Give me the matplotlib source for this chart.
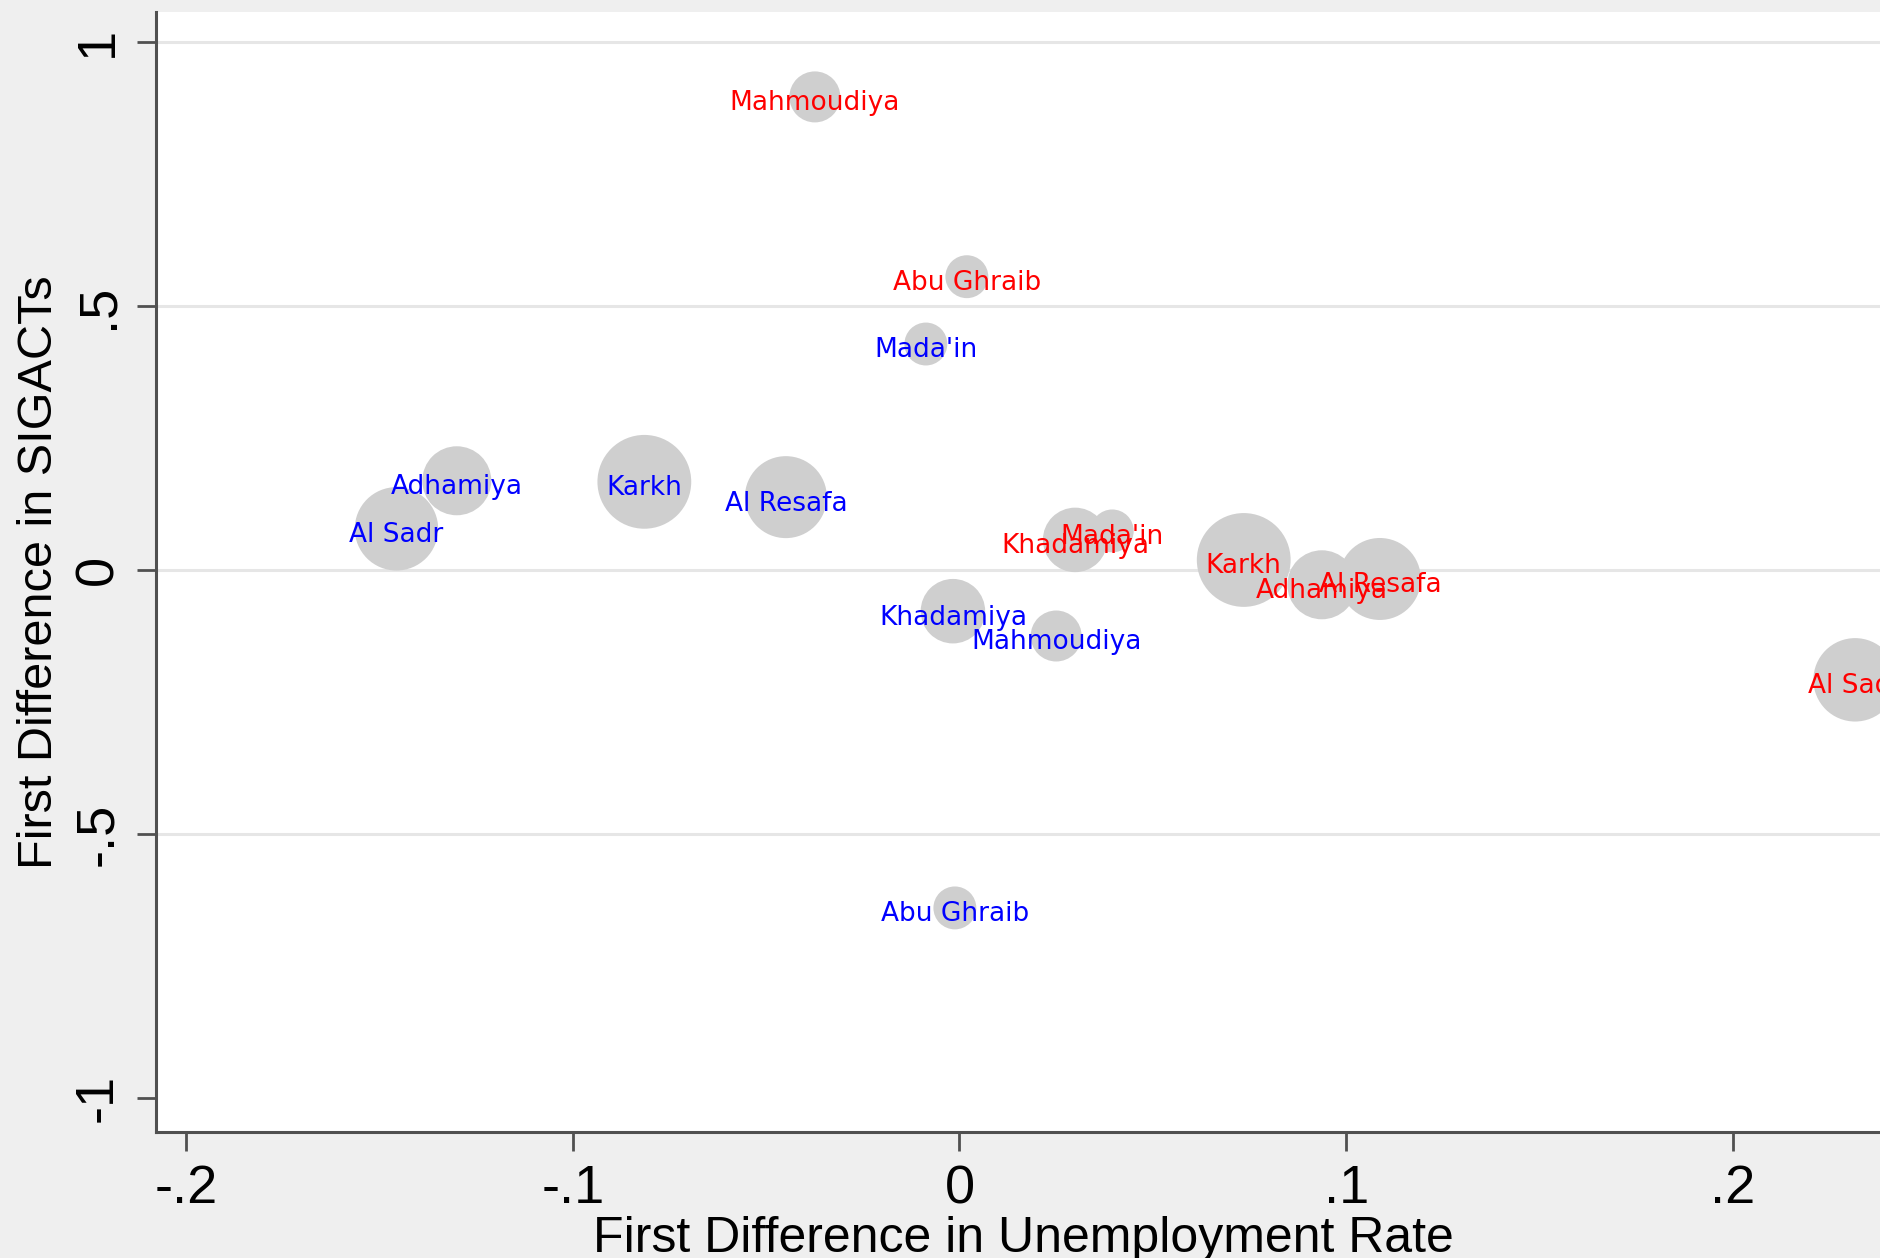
import matplotlib
matplotlib.use("Agg")
import matplotlib.pyplot as plt
import numpy as np

# Baghdad districts, change in unemployment vs change in SIGACTs
districts = ["Al Sadr", "Adhamiya", "Karkh", "Al Resafa",
             "Mada'in", "Khadamiya", "Mahmoudiya", "Abu Ghraib"]

# relative bubble weight per district (area-proportional)
weight = [1.74, 1.19, 2.20, 1.68, 0.46, 1.04, 0.65, 0.46]

# first period (blue labels)
dx_blue = [-0.1456, -0.1300, -0.0815, -0.0449, -0.0087, -0.0017, 0.0250, -0.0012]
dy_blue = [0.078, 0.169, 0.167, 0.138, 0.428, -0.078, -0.125, -0.640]

# second period (red labels)
dx_red = [0.2316, 0.0937, 0.0735, 0.1087, 0.0395, 0.0299, -0.0374, 0.0019]
dy_red = [-0.208, -0.028, 0.019, -0.017, 0.074, 0.057, 0.896, 0.5555]

xticks = [-0.2, -0.1, 0.0, 0.1, 0.2]
xticklabels = ["-.2", "-.1", "0", ".1", ".2"]
yticks = [-1.0, -0.5, 0.0, 0.5, 1.0]
yticklabels = ["-1", "-.5", "0", ".5", "1"]
grid_levels = [-0.5, 0.0, 0.5, 1.0]

W, H, DPI = 1881, 1258, 100
fig = plt.figure(figsize=(W / DPI, H / DPI), dpi=DPI, facecolor="#efefef")

left_px, right_px, top_px, bottom_px = 156, 1890, 12, 1131.5
ax = fig.add_axes([left_px / W, (H - bottom_px) / H,
                   (right_px - left_px) / W, (bottom_px - top_px) / H])
ax.set_facecolor("white")

x0_px, x_scale = 959.5, 3867.0
y0_px, y_scale = 570.0, 528.0
ax.set_xlim((left_px - x0_px) / x_scale, (right_px - x0_px) / x_scale)
ax.set_ylim((y0_px - bottom_px) / y_scale, (y0_px - top_px) / y_scale)

for g in grid_levels:
    ax.axhline(g, color="#e6e6e6", lw=2.2, zorder=0)

px_to_pt = 72.0 / DPI
w = np.array(weight)
sizes = w * 1000 * (2 * px_to_pt) ** 2

bubble = "#cfcfcf"
ax.scatter(dx_blue, dy_blue, s=sizes, c=bubble, edgecolors="none", zorder=2)
ax.scatter(dx_red, dy_red, s=sizes, c=bubble, edgecolors="none", zorder=2)

label_kw = dict(fontsize=19, family="DejaVu Sans", ha="center",
                va="center_baseline", textcoords="offset points",
                xytext=(0, -2.5), zorder=3)
for name, x, y in zip(districts, dx_blue, dy_blue):
    ax.annotate(name, (x, y), color="#0000ff", **label_kw)
for name, x, y in zip(districts, dx_red, dy_red):
    ax.annotate(name, (x, y), color="#ff0000", **label_kw)

for side in ["top", "right"]:
    ax.spines[side].set_visible(False)
for side in ["left", "bottom"]:
    ax.spines[side].set_color("#505050")
    ax.spines[side].set_linewidth(2.2)

ax.set_xticks(xticks)
ax.set_xticklabels(xticklabels, family="Liberation Sans", fontsize=39)
ax.set_yticks(yticks)
ax.set_yticklabels(yticklabels, family="Liberation Sans", fontsize=39,
                   rotation=90, va="center")
ax.tick_params(axis="both", length=19 * px_to_pt, width=2.0, color="#505050")
ax.tick_params(axis="x", pad=10)
ax.tick_params(axis="y", pad=10)

ax.set_xlabel("First Difference in Unemployment Rate",
              family="Liberation Sans", fontsize=36, va="baseline")
ax.xaxis.set_label_coords(0.5, (bottom_px - 1252) / (bottom_px - top_px))
ax.set_ylabel("First Difference in SIGACTs",
              family="Liberation Sans", fontsize=35, va="baseline")
ax.yaxis.set_label_coords((52 - left_px) / (right_px - left_px), 0.5)

fig.savefig("out.png", dpi=DPI, facecolor=fig.get_facecolor())
